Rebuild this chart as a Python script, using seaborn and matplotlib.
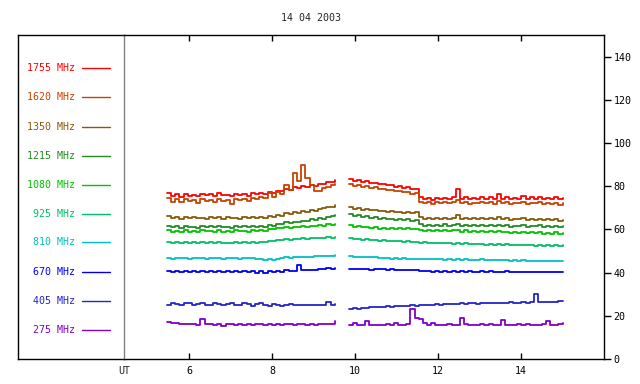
import numpy as np
import pandas as pd
import matplotlib
matplotlib.use("Agg")
import matplotlib.pyplot as plt
import seaborn as sns

# time grids (UT hours) for the two observing segments
t1 = np.linspace(5.46, 9.51, 41)
t2 = np.linspace(9.85, 15.0, 53)

freqs = ["1755 MHz", "1620 MHz", "1350 MHz", "1215 MHz", "1080 MHz",
         "925 MHz", "810 MHz", "670 MHz", "405 MHz", "275 MHz"]
colors = ["#ff0000", "#c84200", "#875a0a", "#228b22", "#00c400",
          "#00bf66", "#00c0c0", "#0000f0", "#2424c8", "#8000c8"]

seg1 = {
    "1755 MHz": [76.8, 75.5, 76.4, 75.2, 76.6, 75.6, 76.0, 75.3, 76.5, 75.7, 76.2, 75.4, 76.7, 75.8, 76.1, 75.5, 76.6, 75.9, 76.3, 75.6, 76.8,
                 76.2, 77.0, 76.4, 77.5, 77.0, 78.0, 77.6, 78.7, 78.2, 79.6, 79.0, 80.2, 79.6, 80.4, 80.0, 81.2, 80.8, 82.0, 81.8, 83.0],
    "1620 MHz": [74.5, 72.8, 73.9, 72.6, 74.2, 73.0, 73.6, 72.4, 74.0, 73.2, 73.8, 72.9, 74.3, 73.1, 73.7, 71.8, 74.1, 73.4, 73.9, 73.2, 74.6,
                 73.9, 75.0, 74.4, 76.8, 75.2, 77.5, 76.4, 80.5, 78.2, 86.0, 82.5, 89.8, 84.0, 80.5, 78.0, 77.6, 79.2, 79.8, 80.4, 81.2],
    "1350 MHz": [66.0, 65.2, 65.7, 65.0, 65.6, 65.3, 65.8, 65.1, 65.5, 64.9, 65.7, 65.2, 65.6, 65.0, 65.8, 65.3, 65.5, 64.9, 65.7, 65.2, 65.6,
                 65.3, 65.9, 65.4, 66.2, 65.8, 66.8, 66.4, 67.6, 67.2, 68.0, 67.8, 68.6, 68.2, 69.0, 68.7, 69.6, 69.8, 70.5, 70.6, 71.4],
    "1215 MHz": [61.6, 60.9, 61.4, 60.8, 61.5, 61.0, 61.3, 60.7, 61.6, 61.1, 61.4, 60.9, 61.5, 61.0, 61.3, 60.8, 61.6, 61.1, 61.4, 60.9, 61.5,
                 61.2, 61.7, 61.3, 62.0, 61.8, 62.6, 62.4, 63.2, 62.9, 63.6, 63.3, 64.1, 63.8, 64.6, 64.4, 65.2, 65.0, 65.8, 66.0, 66.7],
    "1080 MHz": [59.6, 58.9, 59.4, 58.8, 59.5, 59.0, 59.3, 58.7, 59.5, 59.1, 59.4, 58.9, 59.6, 59.0, 59.3, 58.8, 59.5, 59.1, 59.4, 59.0, 59.6,
                 59.2, 59.8, 59.4, 60.2, 60.0, 60.8, 60.5, 61.2, 60.8, 61.0, 61.3, 61.5, 61.2, 61.7, 61.5, 62.0, 61.8, 62.3, 62.2, 62.7],
    "925 MHz": [54.3, 53.8, 54.1, 53.7, 54.2, 53.8, 54.0, 53.6, 54.1, 53.8, 54.0, 53.7, 54.2, 53.9, 53.8, 53.5, 54.1, 53.8, 54.0, 53.7, 54.1,
                53.9, 54.2, 54.0, 54.6, 54.5, 55.1, 55.0, 55.5, 55.3, 55.4, 55.6, 55.8, 55.6, 56.0, 55.9, 56.2, 56.0, 56.3, 56.2, 56.5],
    "810 MHz": [46.8, 46.5, 46.8, 46.6, 46.9, 46.5, 46.7, 46.6, 46.9, 46.5, 46.8, 46.6, 46.8, 46.5, 46.9, 46.6, 46.7, 46.5, 46.8, 46.6, 46.7,
                46.5, 46.3, 45.9, 46.5, 45.8, 46.4, 46.8, 47.1, 46.9, 47.0, 47.2, 47.3, 47.1, 47.4, 47.5, 47.6, 47.5, 47.8, 47.7, 48.0],
    "670 MHz": [40.8, 40.4, 40.7, 40.3, 40.8, 40.5, 40.6, 40.4, 40.7, 40.5, 40.6, 40.3, 40.7, 40.5, 40.6, 40.4, 40.7, 40.5, 40.6, 40.4, 40.7,
                39.9, 40.9, 39.8, 40.8, 40.2, 40.9, 40.4, 41.0, 40.7, 40.9, 43.6, 41.2, 41.0, 41.4, 41.3, 41.6, 41.5, 41.9, 41.8, 42.3],
    "405 MHz": [24.8, 25.8, 25.6, 24.9, 25.7, 25.9, 25.0, 25.4, 26.0, 25.2, 24.9, 25.8, 25.6, 24.8, 25.5, 26.0, 25.1, 24.8, 25.7, 25.5, 24.6,
                25.4, 25.8, 24.9, 24.5, 25.3, 25.1, 24.6, 25.0, 25.3, 24.8, 25.0, 25.2, 24.9, 25.1, 25.0, 25.2, 25.1, 26.6, 25.1, 25.3],
    "275 MHz": [16.9, 16.8, 16.7, 16.1, 16.3, 16.0, 16.2, 15.9, 18.3, 16.1, 16.4, 15.8, 16.2, 15.5, 16.0, 16.3, 15.8, 16.4, 15.9, 16.1, 15.6,
                16.3, 16.0, 15.8, 16.4, 15.9, 16.2, 15.7, 16.3, 16.0, 15.8, 16.4, 16.1, 15.9, 16.3, 15.8, 16.2, 16.0, 16.4, 16.1, 17.8],
}

seg2 = {
    "1755 MHz": [83.2, 82.4, 82.8, 81.9, 82.2, 81.4, 81.7, 80.9, 81.1, 80.4, 80.6, 79.8, 80.0, 79.2, 79.4, 78.6, 78.8, 74.8,
                 74.0, 74.6, 73.8, 74.5, 73.9, 74.7, 74.0, 75.2, 78.6, 74.3, 74.9, 73.9, 74.6, 74.1, 75.0, 74.2, 74.8, 74.0,
                 76.6, 74.3, 75.1, 74.0, 74.7, 74.2, 75.3, 74.1, 74.8, 74.3, 75.0, 74.0, 74.6, 74.2, 74.9, 74.1, 74.6],
    "1620 MHz": [81.0, 80.3, 80.6, 79.8, 80.0, 79.3, 79.5, 78.7, 78.9, 78.2, 78.3, 77.6, 77.8, 77.1, 77.3, 76.6, 76.9, 72.8,
                 72.1, 72.6, 71.9, 72.5, 72.0, 72.7, 72.1, 72.9, 73.8, 72.3, 72.6, 71.8, 72.4, 72.0, 72.7, 72.1, 72.5, 71.9,
                 73.0, 72.2, 72.6, 71.8, 72.4, 72.0, 72.8, 71.9, 72.3, 72.0, 72.5, 71.6, 72.3, 71.8, 72.2, 71.5, 72.0],
    "1350 MHz": [70.3, 69.6, 69.8, 69.2, 69.4, 68.8, 69.0, 68.5, 68.7, 68.2, 68.4, 67.9, 68.2, 67.7, 68.0, 67.6, 67.9, 65.6,
                 64.9, 65.4, 64.8, 65.3, 64.9, 65.5, 64.8, 65.2, 66.8, 65.0, 65.4, 64.7, 65.2, 64.8, 65.5, 64.7, 65.1, 64.6,
                 65.6, 64.8, 65.2, 64.5, 65.0, 64.6, 65.3, 64.5, 64.9, 64.4, 65.0, 64.3, 64.8, 64.5, 64.9, 64.0, 64.5],
    "1215 MHz": [67.0, 66.2, 66.5, 65.8, 66.0, 65.3, 65.6, 65.0, 65.3, 64.7, 65.0, 64.5, 64.8, 64.2, 64.6, 64.0, 64.3, 62.3,
                 61.7, 62.2, 61.6, 62.1, 61.7, 62.3, 61.6, 62.0, 62.6, 61.8, 62.1, 61.5, 62.0, 61.6, 62.2, 61.4, 61.9, 61.5,
                 62.1, 61.6, 61.9, 61.3, 61.8, 61.4, 62.0, 61.3, 61.7, 61.4, 61.9, 61.2, 61.7, 61.3, 61.8, 61.1, 61.6],
    "1080 MHz": [62.0, 61.3, 61.6, 60.9, 61.2, 60.6, 61.0, 60.4, 60.8, 60.2, 60.7, 60.1, 60.6, 60.0, 60.5, 60.1, 60.4, 59.8,
                 59.3, 59.9, 59.2, 59.8, 59.3, 59.7, 59.1, 59.6, 59.5, 59.0, 59.5, 58.9, 59.4, 58.9, 59.3, 58.8, 59.2, 58.7,
                 59.2, 58.6, 59.0, 58.5, 58.9, 58.5, 58.8, 58.3, 58.8, 58.2, 58.7, 57.9, 58.5, 58.1, 58.6, 57.9, 58.4],
    "925 MHz": [56.2, 55.6, 55.7, 55.3, 55.4, 55.1, 55.2, 54.8, 55.0, 54.6, 54.8, 54.4, 54.6, 54.3, 54.4, 54.1, 54.2, 53.9,
                54.1, 53.7, 53.9, 53.6, 53.8, 53.5, 53.7, 53.4, 53.6, 53.3, 53.5, 53.2, 53.4, 53.1, 53.3, 53.0, 53.2, 53.0,
                53.1, 52.8, 53.1, 52.7, 52.9, 52.6, 52.9, 52.6, 52.8, 52.5, 52.8, 52.4, 52.7, 52.4, 52.6, 52.3, 52.6],
    "810 MHz": [47.5, 47.3, 47.4, 47.3, 47.4, 47.2, 47.3, 46.7, 46.6, 46.7, 46.5, 46.6, 46.5, 46.6, 46.4, 46.5, 46.4, 46.3,
                46.4, 46.2, 46.3, 46.1, 46.3, 46.0, 46.2, 46.0, 46.1, 45.9, 46.1, 45.9, 46.0, 45.8, 46.4, 45.8, 45.9, 45.7,
                45.9, 45.7, 45.8, 45.6, 45.8, 45.5, 45.7, 45.5, 45.6, 45.4, 45.6, 45.3, 45.5, 45.3, 45.4, 45.2, 45.3],
    "670 MHz": [41.8, 41.6, 41.7, 41.5, 41.7, 41.4, 41.8, 41.5, 41.6, 41.4, 41.5, 41.3, 41.4, 41.2, 41.3, 41.1, 41.2, 40.7,
                40.6, 40.7, 40.5, 40.9, 40.4, 40.7, 40.5, 40.6, 40.4, 40.8, 40.3, 40.6, 40.5, 40.4, 40.7, 40.3, 40.6, 40.4,
                40.5, 40.3, 40.6, 40.4, 40.5, 40.3, 40.5, 40.4, 40.5, 40.3, 40.4, 40.5, 40.3, 40.4, 40.3, 40.5, 40.4],
    "405 MHz": [23.3, 23.4, 23.3, 23.6, 23.8, 24.0, 24.2, 24.1, 24.3, 24.4, 24.3, 24.5, 24.6, 24.5, 24.7, 24.8, 24.7, 24.9,
                25.0, 24.9, 25.1, 25.3, 25.1, 25.6, 25.4, 25.3, 25.6, 25.8, 25.5, 25.7, 25.9, 25.6, 25.8, 26.0, 25.7, 25.9,
                26.1, 25.8, 26.0, 26.2, 25.9, 26.1, 26.3, 26.0, 26.2, 30.2, 26.5, 26.3, 26.4, 26.6, 26.5, 26.7, 26.8],
    "275 MHz": [15.9, 16.6, 15.7, 15.6, 17.4, 15.8, 15.6, 15.9, 15.7, 16.1, 15.6, 16.8, 15.8, 15.7, 16.2, 23.3, 19.2, 18.4,
                16.7, 15.9, 16.8, 15.7, 15.9, 15.6, 16.0, 15.8, 15.7, 19.1, 16.0, 15.8, 15.9, 15.7, 16.1, 15.8, 16.2, 15.7,
                15.9, 17.9, 15.8, 15.9, 15.7, 16.0, 15.8, 16.0, 15.7, 15.9, 15.8, 16.0, 17.6, 15.9, 15.7, 16.2, 16.6],
}

rows = []
for f in freqs:
    assert len(seg1[f]) == len(t1) and len(seg2[f]) == len(t2), f
    for t, v in zip(t1, seg1[f]):
        rows.append((f, 1, t, v))
    for t, v in zip(t2, seg2[f]):
        rows.append((f, 2, t, v))
df = pd.DataFrame(rows, columns=["freq", "seg", "ut", "flux"])

sns.set_style("white")
plt.rcParams["font.family"] = ["DejaVu Sans Mono"]
plt.rcParams["font.size"] = 7.2

fig = plt.figure(figsize=(6.4, 3.84), dpi=100)
bot, hgt = 25 / 384, 324 / 384
ax_leg = fig.add_axes([18 / 640, bot, 106 / 640, hgt])
ax = fig.add_axes([124 / 640, bot, 480 / 640, hgt])

palette = dict(zip(freqs, colors))
sns.lineplot(data=df, x="ut", y="flux", hue="freq", units="seg", estimator=None,
             palette=palette, hue_order=freqs, legend=False, ax=ax,
             drawstyle="steps-post", linewidth=1.3)

ax.set_xlim(4.43, 16)
ax.set_ylim(0, 150)
ax.set_xticks([6, 8, 10, 12, 14])
ax.set_yticks(range(0, 141, 20))
ax.set_xlabel("")
ax.set_ylabel("")
ax.yaxis.tick_right()
ax.tick_params(axis="x", direction="in", length=4, width=1, top=True, bottom=True,
               pad=5, colors="black")
ax.tick_params(axis="y", direction="out", length=5, width=1, left=False, right=True,
               pad=2, colors="black")
for side, sp in ax.spines.items():
    sp.set_color("black")
    sp.set_linewidth(1)
ax.spines["left"].set_color("#808080")

# legend panel on the left
ax_leg.set_xlim(0, 1)
ax_leg.set_ylim(0, 1)
ax_leg.set_xticks([])
ax_leg.set_yticks([])
ax_leg.spines["right"].set_visible(False)
for side in ["left", "top", "bottom"]:
    ax_leg.spines[side].set_color("black")
    ax_leg.spines[side].set_linewidth(1)
ys = [68, 97, 127, 156, 185, 214, 242, 272, 301, 330]
for f, c, y in zip(freqs, colors, ys):
    yf = (359 - y) / 324
    ax_leg.text(0.538, yf, f, color=c, ha="right", va="center")
    ax_leg.plot([0.604, 0.868], [yf, yf], color=c, linewidth=1)

fig.text(311 / 640, 1 - 18 / 384, "14 04 2003", ha="center", va="center")
fig.text(124 / 640, 1 - 371 / 384, "UT", ha="center", va="center")

fig.savefig("out.png", dpi=100)
